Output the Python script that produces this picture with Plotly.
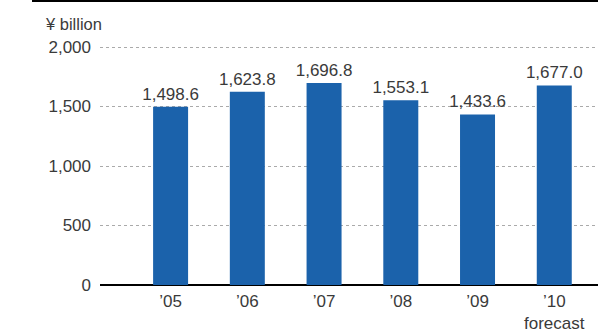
import plotly.graph_objects as go

categories = ["’05", "’06", "’07", "’08", "’09", "’10<br>forecast"]
values = [1498.6, 1623.8, 1696.8, 1553.1, 1433.6, 1677.0]
labels = ["1,498.6", "1,623.8", "1,696.8", "1,553.1", "1,433.6", "1,677.0"]
ytick_vals = [0, 500, 1000, 1500, 2000]
ytick_text = ["0", "500", "1,000", "1,500", "2,000"]

font = "Liberation Sans, Arial, sans-serif"
txtc = "#3a3a3a"

fig = go.Figure(go.Bar(
    x=list(range(len(categories))), y=values,
    text=labels, textposition="outside", cliponaxis=False, constraintext="none",
    textfont=dict(size=17, color=txtc, family=font),
    marker=dict(color="#1b62ab", line=dict(width=0)),
    width=0.456,
))

plot_h = 332 - 42 - 47
fig.update_layout(
    width=598, height=332,
    margin=dict(l=100, r=0, t=42, b=47),
    paper_bgcolor="white", plot_bgcolor="white",
    showlegend=False,
    font=dict(family=font, size=17, color=txtc),
    xaxis=dict(
        range=[-0.92, 5.57], automargin=False,
        tickvals=list(range(len(categories))), ticktext=categories,
        showgrid=False, zeroline=False, showline=False, ticks="",
        ticklabelstandoff=4,
        tickfont=dict(size=17, color=txtc),
    ),
    yaxis=dict(
        range=[0, 2042], automargin=False, tickvals=ytick_vals, ticktext=ytick_text,
        showgrid=True, gridcolor="#aaaaaa", griddash="3px,3px", gridwidth=1,
        zeroline=True, zerolinecolor="black", zerolinewidth=1.5,
        showline=False, ticks="", ticklabelstandoff=8,
        tickfont=dict(size=17, color=txtc),
    ),
    shapes=[dict(type="line", xref="paper", yref="paper",
                 x0=(32 - 100) / 498, x1=1, y0=1 + 41 / plot_h, y1=1 + 41 / plot_h,
                 line=dict(color="black", width=2))],
    annotations=[dict(text="¥ billion", xref="paper", yref="paper",
                      x=(43 - 100) / 498, y=1 + 18 / plot_h, xanchor="left", yanchor="middle",
                      showarrow=False, font=dict(size=16.5, color=txtc, family=font))],
)

fig.write_html("out.html", config={"displayModeBar": False},
               post_script="document.body.style.margin='0';document.body.style.padding='0';")
